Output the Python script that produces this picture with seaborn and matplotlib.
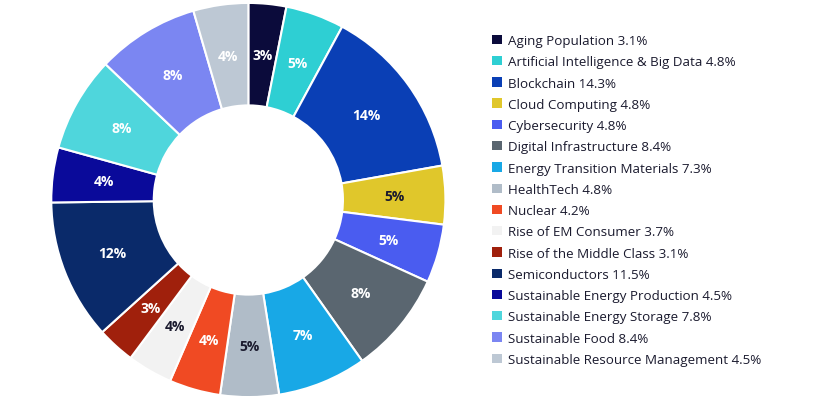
import numpy as np
import seaborn as sns
import matplotlib.pyplot as plt
from matplotlib.patches import Patch

sns.set_style("white")
plt.rcParams['font.family'] = ['Open Sans', 'DejaVu Sans']

themes = ["Aging Population", "Artificial Intelligence & Big Data", "Blockchain",
          "Cloud Computing", "Cybersecurity", "Digital Infrastructure",
          "Energy Transition Materials", "HealthTech", "Nuclear",
          "Rise of EM Consumer", "Rise of the Middle Class", "Semiconductors",
          "Sustainable Energy Production", "Sustainable Energy Storage",
          "Sustainable Food", "Sustainable Resource Management"]
weights = [3.1, 4.8, 14.3, 4.8, 4.8, 8.4, 7.3, 4.8, 4.2, 3.7, 3.1, 11.5, 4.5, 7.8, 8.4, 4.5]
colors = ["#0b0b3b", "#2ecfd3", "#0a3fb5", "#e0c72b", "#4a5cf0", "#5a6670",
          "#18a8e6", "#b0bcc8", "#f04a23", "#f2f2f2", "#a0200c", "#0a2a6a",
          "#0a0a9a", "#4fd6dc", "#7b86f2", "#bdc8d4"]
dark_text = {"Cloud Computing", "HealthTech", "Rise of EM Consumer"}

fig = plt.figure(figsize=(8.21, 4.02), dpi=100)
ax = fig.add_axes([0.0, 0.0, 0.605, 1.0])
wedges, _ = ax.pie(weights, colors=colors, startangle=90, counterclock=False,
                   radius=1.0, wedgeprops=dict(width=0.52, edgecolor="white", linewidth=1.5))
total = sum(weights)
for w, name, val in zip(wedges, themes, weights):
    ang = np.deg2rad((w.theta1 + w.theta2) / 2)
    r = 0.74
    ax.text(r * np.cos(ang), r * np.sin(ang), f"{val / total * 100:.0f}%",
            ha="center", va="center", fontsize=10, fontweight="bold",
            color="#1a1a2e" if name in dark_text else "white")
ax.set_aspect("equal")
ax.set_xlim(-1.02, 1.02)
ax.set_ylim(-1.02, 1.02)

handles = [Patch(facecolor=c, edgecolor="none") for c in colors]
labels = [f"{t} {v}%" for t, v in zip(themes, weights)]
fig.legend(handles, labels, loc="center left", bbox_to_anchor=(0.585, 0.5),
           frameon=False, fontsize=9.6, handlelength=0.7, handleheight=0.7,
           handletextpad=0.5, labelspacing=0.62, labelcolor="#1a1a2e")
fig.savefig("out.png", dpi=100)
